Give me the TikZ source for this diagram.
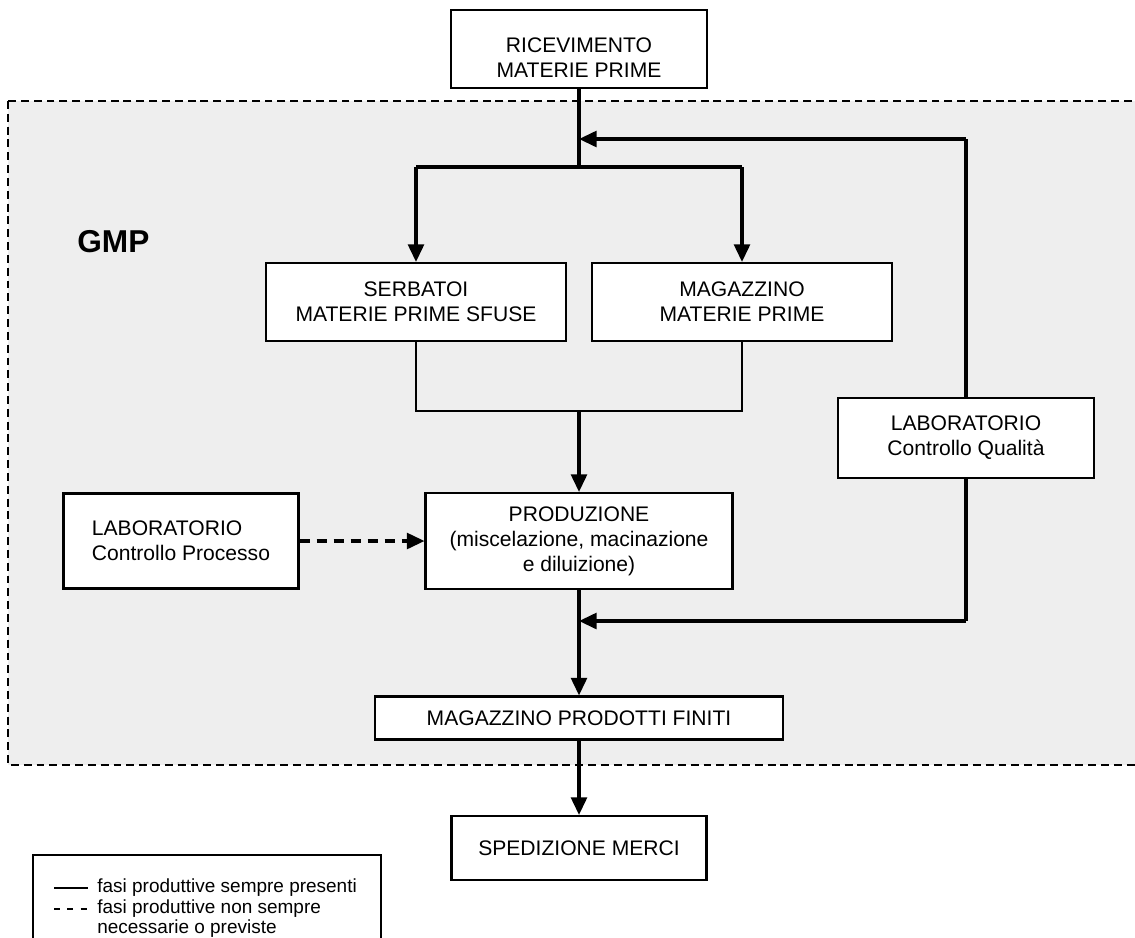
\documentclass[tikz,border=0pt]{standalone}
\usepackage{fontspec}
\setmainfont{Liberation Sans}
\usetikzlibrary{arrows.meta}
\definecolor{gmpgray}{RGB}{238,238,238}
\tikzset{
	box/.style = {draw, line width=1.2pt, fill=white, align=center, inner sep=2pt, font=\fontsize{12}{14.2}\selectfont},
	flow/.style = {line width=1.8pt},
	thinflow/.style = {line width=1.1pt},
	arr/.style = {-{Triangle[length=10pt,width=9pt]}},
	dashflow/.style = {line width=1.8pt, dash pattern=on 5.7pt off 4pt},
	gmpzone/.style = {line width=1.1pt, dash pattern=on 4.5pt off 2.8pt, fill=gmpgray},
	legtext/.style = {anchor=base west, inner sep=0pt, font=\fontsize{10.8}{11.5}\selectfont}
}

\begin{document}
\begin{tikzpicture}[x=0.02cm, y=-0.02cm]
	\useasboundingbox (0,0) rectangle (1135,937);
	\draw[gmpzone] (8,101) rectangle (1150,765);
	\node[anchor=base west, inner sep=0pt, font=\fontsize{18}{20}\selectfont\bfseries] (gmp) at (77,252) {GMP};

	\node[box, minimum width=5.12cm, minimum height=1.56cm] (ric) at (579,49) {\rule{0pt}{18.5pt}RICEVIMENTO\\MATERIE PRIME};
	\node[box, minimum width=6cm, minimum height=1.56cm] (serb) at (416,302) {SERBATOI\\MATERIE PRIME SFUSE};
	\node[box, minimum width=6cm, minimum height=1.56cm] (magmp) at (742,302) {MAGAZZINO\\MATERIE PRIME};
	\node[box, minimum width=6.14cm, minimum height=1.92cm] (prod) at (579,541) {PRODUZIONE\\(miscelazione, macinazione\\e diluizione)};
	\node[box, align=left, minimum width=4.7cm, minimum height=1.9cm] (labcp) at (181,541) {LABORATORIO\\Controllo Processo};
	\node[box, minimum width=5.12cm, minimum height=1.6cm] (labcq) at (966,438) {LABORATORIO\\Controllo Qualità};
	\node[box, minimum width=8.16cm, minimum height=0.86cm] (mpf) at (579,718) {MAGAZZINO PRODOTTI FINITI};
	\node[box, minimum width=5.1cm, minimum height=1.28cm] (sped) at (579,848) {SPEDIZIONE MERCI};

	\coordinate (split) at (579,167);
	\coordinate (splitL) at (416,167);
	\coordinate (splitR) at (742,167);
	\coordinate (merge) at (579,411);
	\coordinate (mergeL) at (416,411);
	\coordinate (mergeR) at (742,411);
	\coordinate (fbtop) at (966,139);
	\coordinate (fbtopin) at (579,139);
	\coordinate (fbbot) at (966,621);
	\coordinate (fbbotin) at (579,621);

	\draw[flow] (ric) -- (split);
	\draw[flow] (splitL) -- (splitR);
	\draw[flow, arr] (splitL) -- (serb);
	\draw[flow, arr] (splitR) -- (magmp);
	\draw[thinflow] (serb) -- (mergeL) -- (mergeR) -- (magmp);
	\draw[flow, arr] (merge) -- (prod);
	\draw[dashflow, arr] (labcp) -- (prod);
	\draw[flow] (labcq) -- (fbtop);
	\draw[flow, arr] (fbtop) -- (fbtopin);
	\draw[flow] (labcq) -- (fbbot);
	\draw[flow, arr] (fbbot) -- (fbbotin);
	\draw[flow, arr] (prod) -- (mpf);
	\draw[flow, arr] (mpf) -- (sped);

	\draw[line width=1.2pt] (33,855) rectangle (381,950);
	\coordinate (solidA) at (54,888);
	\coordinate (solidB) at (88,888);
	\coordinate (dashA) at (54,909);
	\coordinate (dashB) at (88,909);
	\draw[line width=0.8pt] (solidA) -- (solidB);
	\draw[line width=0.8pt, dash pattern=on 3.4pt off 4.2pt] (dashA) -- (dashB);
	\node[legtext] (leg1) at (97,892) {fasi produttive sempre presenti};
	\node[legtext] (leg2) at (97,913) {fasi produttive non sempre};
	\node[legtext] (leg3) at (97,933) {necessarie o previste};
\end{tikzpicture}
\end{document}
